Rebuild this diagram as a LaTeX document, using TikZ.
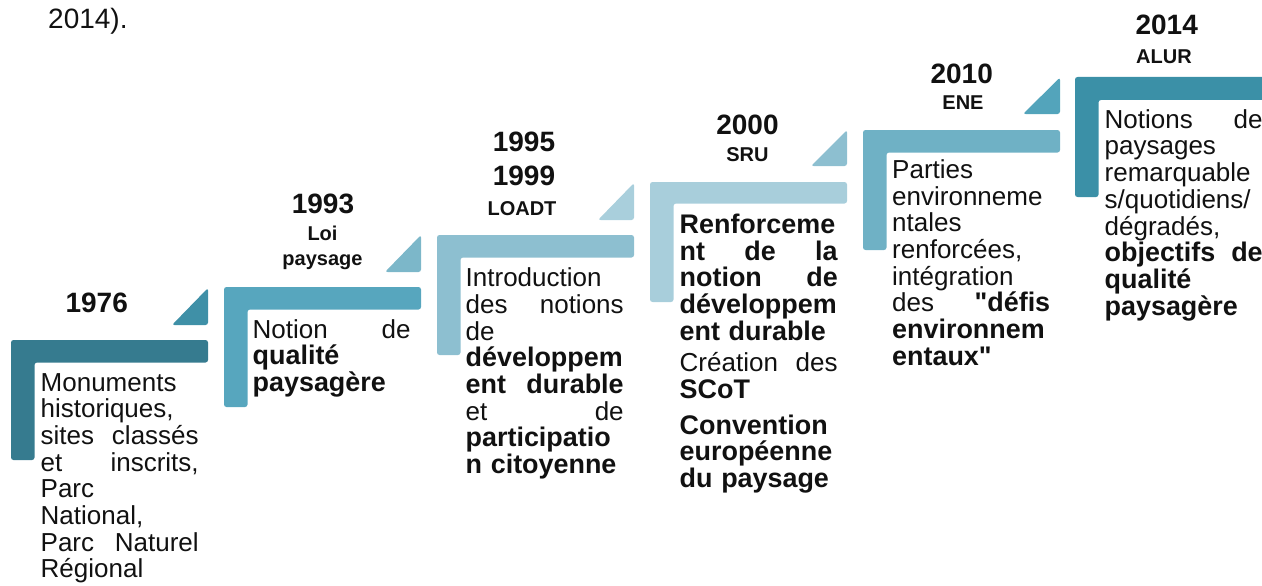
\documentclass[tikz,border=0pt]{standalone}
\usepackage{fontspec}
\setmainfont{Liberation Sans}
\newfontfamily\bodyfam{Liberation Sans}[BoldFeatures={Scale=1.035}]
\newlength\colw
\setlength\colw{158pt}
\newcommand\jl[1]{\leavevmode\hbox to\colw{#1}}
\newcommand\dq{\char34 }
\definecolor{barA}{HTML}{367B8F}
\definecolor{triA}{HTML}{3F90A7}
\definecolor{barB}{HTML}{57A6BE}
\definecolor{triB}{HTML}{7CB7C9}
\definecolor{barC}{HTML}{8DBFD0}
\definecolor{triC}{HTML}{A9CFDC}
\definecolor{barD}{HTML}{A8CEDB}
\definecolor{triD}{HTML}{8DBFD0}
\definecolor{barE}{HTML}{6FB1C5}
\definecolor{triE}{HTML}{53A4BB}
\definecolor{barF}{HTML}{3B90A7}
\definecolor{ink}{HTML}{111111}
\tikzset{
  stepbar/.style={rounded corners=2.5pt, draw=none},
  year/.style={font=\fontsize{28}{30}\selectfont\bfseries, anchor=base, inner sep=0pt, text=ink},
  law/.style={font=\fontsize{20}{22}\selectfont\bfseries, anchor=base, inner sep=0pt, text=ink},
  body/.style={font=\bodyfam\fontsize{26}{26.7}\selectfont, anchor=base west, inner sep=0pt, text width=\colw, align=left, text=ink},
  caption/.style={font=\fontsize{28}{30}\selectfont, anchor=base west, inner sep=0pt, text=ink},
}
\begin{document}
\begin{tikzpicture}[x=1pt, y=-1pt]
\useasboundingbox (0,0) rectangle (1262,586);

% caption fragment
\node[caption] (cap) at (48,29) {2014).};

% step 1 : 1976
\fill[barA, stepbar] (11,340) -- ++(197,0) -- ++(0,22.5) -- ++(-173.5,0) -- ++(0,97.5) -- ++(-23.5,0) -- cycle;
\fill[triA, stepbar] (208,325) -- (208,288) -- (172,325) -- cycle;
\node[year] (y1976) at (96.7,312) {1976};
\node[body] (t1976) at (40.5,391) {Monuments\\
historiques,\\
\jl{sites\hfill classés}\\
\jl{et\hfill inscrits,}\\
Parc\\
National,\\
\jl{Parc\hfill Naturel}\\
Régional};

% step 2 : 1993
\fill[barB, stepbar] (224,287) -- ++(197,0) -- ++(0,22.5) -- ++(-173.5,0) -- ++(0,97.5) -- ++(-23.5,0) -- cycle;
\fill[triB, stepbar] (421,272) -- (421,235) -- (385,272) -- cycle;
\node[year] (y1993) at (323,213.3) {1993};
\node[law] (l1993a) at (322.5,240) {Loi};
\node[law] (l1993b) at (322.5,265) {paysage};
\node[body] (t1993) at (252.5,338) {\jl{Notion\hfill de}\\
\textbf{qualité}\\
\textbf{paysagère}};

% step 3 : 1995-1999
\fill[barC, stepbar] (437,235) -- ++(197,0) -- ++(0,22.5) -- ++(-173.5,0) -- ++(0,97.5) -- ++(-23.5,0) -- cycle;
\fill[triC, stepbar] (634,220) -- (634,183) -- (598,220) -- cycle;
\node[year] (y1995) at (524,151.7) {1995};
\node[year] (y1999) at (524,185) {1999};
\node[law] (l1999) at (522,215) {LOADT};
\node[body] (t1999) at (465.5,286.7) {Introduction\\
\jl{des\hfill notions}\\
de\\
\textbf{développem}\\
\jl{\textbf{ent}\hfill\textbf{durable}}\\
\jl{et\hfill de}\\
\textbf{participatio}\\
\textbf{n citoyenne}};

% step 4 : 2000
\fill[barD, stepbar] (650,182) -- ++(197,0) -- ++(0,21.5) -- ++(-173.5,0) -- ++(0,98.5) -- ++(-23.5,0) -- cycle;
\fill[triD, stepbar] (847,166) -- (847,130) -- (811,166) -- cycle;
\node[year] (y2000) at (747.5,135) {2000};
\node[law] (l2000) at (747.5,161.7) {SRU};
\node[body] (t2000) at (679.5,233.3) {\textbf{Renforceme}\\
\jl{\textbf{nt}\hfill\textbf{de}\hfill\textbf{la}}\\
\jl{\textbf{notion}\hfill\textbf{de}}\\
\textbf{développem}\\
\textbf{ent durable}\\[5pt]
\jl{Création\hfill des}\\
\textbf{SCoT}\\[9pt]
\textbf{Convention}\\
\textbf{européenne}\\
\textbf{du paysage}};

% step 5 : 2010
\fill[barE, stepbar] (863,130) -- ++(197,0) -- ++(0,22.5) -- ++(-173.5,0) -- ++(0,97.5) -- ++(-23.5,0) -- cycle;
\fill[triE, stepbar] (1060,114) -- (1060,77.5) -- (1023,114) -- cycle;
\node[year] (y2010) at (961.7,83.3) {2010};
\node[law] (l2010) at (963,110) {ENE};
\node[body] (t2010) at (892,178.3) {Parties\\
environneme\\
ntales\\
renforcées,\\
intégration\\
\jl{des\hfill\textbf{\dq défis}}\\
\textbf{environnem}\\
\textbf{entaux\dq}};

% step 6 : 2014
\fill[barF, stepbar] (1075,77) -- ++(200,0) -- ++(0,23) -- ++(-176.5,0) -- ++(0,97) -- ++(-23.5,0) -- cycle;
\node[year] (y2014) at (1166.7,35) {2014};
\node[law] (l2014) at (1164,63.3) {ALUR};
\node[body] (t2014) at (1104.5,128.3) {\jl{Notions\hfill de}\\
paysages\\
remarquable\\
s/quotidiens/\\
dégradés,\\
\jl{\textbf{objectifs}\hfill\textbf{de}}\\
\textbf{qualité}\\
\textbf{paysagère}};
\end{tikzpicture}
\end{document}
